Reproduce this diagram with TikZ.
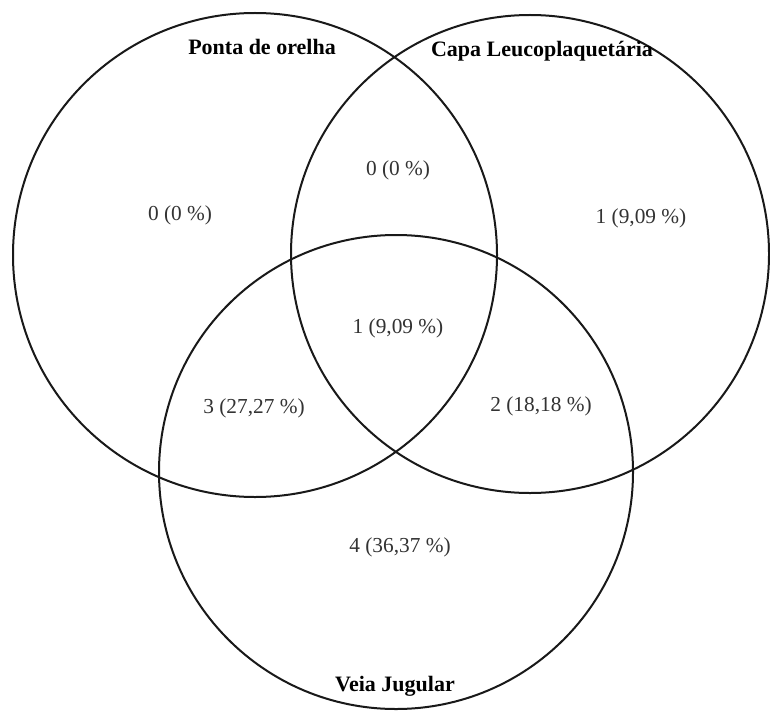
\documentclass[tikz,border=0pt]{standalone}
\usepackage{fontspec}
\setmainfont{Liberation Serif}
\begin{document}
\begin{tikzpicture}[x=0.75pt,y=-0.75pt]
	
	\useasboundingbox[fill=white] (0,0) rectangle (770,713);
	\tikzset{set/.style={draw=black!90,line width=1.5pt},
		title/.style={font=\fontsize{16.5}{18}\selectfont\bfseries},
		count/.style={font=\fontsize{16}{18}\selectfont,text=black!80}}
	
	% The circles
	\draw[set] (255,255) circle (242);
	\draw[set] (530,254) circle (239);
	\draw[set] (396,472) circle (237);
	
	% The set names
	\node[title] (ponta) at (262,47) {Ponta de orelha};
	\node[title] (capa) at (542,51) {Capa Leucoplaquetária};
	\node[title] (veia) at (395,686) {Veia Jugular};
	
	% The counts
	\node[count] (p) at (180,215) {0 (0~\%)};
	\node[count] (pc) at (398,170) {0 (0~\%)};
	\node[count] (c) at (641,218) {1 (9,09~\%)};
	\node[count] (pcv) at (398,328) {1 (9,09~\%)};
	\node[count] (pv) at (254,408) {3 (27,27~\%)};
	\node[count] (cv) at (541,406) {2 (18,18~\%)};
	\node[count] (v) at (400,547) {4 (36,37~\%)};

\end{tikzpicture}
\end{document}
